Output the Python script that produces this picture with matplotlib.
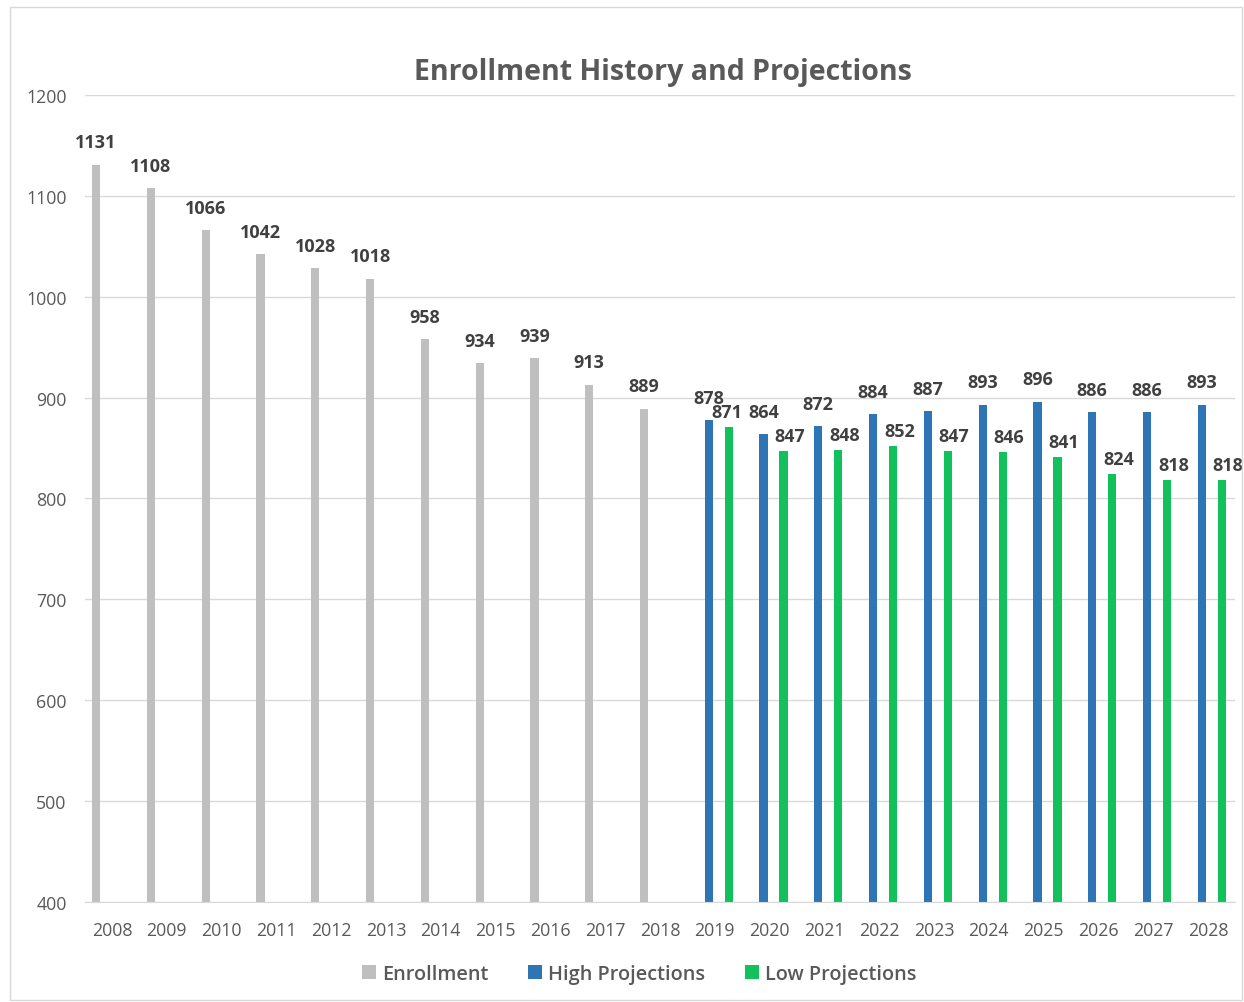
import numpy as np
import matplotlib
matplotlib.use("Agg")
import matplotlib.pyplot as plt
from matplotlib.patches import Rectangle

plt.rcParams['font.family'] = ['Open Sans', 'DejaVu Sans']

# dados do gráfico
years = [str(y) for y in range(2008, 2029)]
enrollment = [1131, 1108, 1066, 1042, 1028, 1018, 958, 934, 939, 913, 889]
high_proj = [878, 864, 872, 884, 887, 893, 896, 886, 886, 893]
low_proj = [871, 847, 848, 852, 847, 846, 841, 824, 818, 818]

cor_cinza = '#BFBFBF'
cor_azul = '#2E75B6'
cor_verde = '#12C15C'
cor_texto = '#595959'
cor_rotulo = '#404040'

fig = plt.figure(figsize=(12.44, 10.03), dpi=100)
ax = fig.add_axes([0.068, 0.0997, 0.925, 0.8046])

x = np.arange(len(years))
xe = x[:len(enrollment)]
xp = x[len(enrollment):]

w = 0.15
b1 = ax.bar(xe - 0.29, enrollment, w, color=cor_cinza, label='Enrollment', zorder=2)
b2 = ax.bar(xp - 0.11, high_proj, w, color=cor_azul, label='High Projections', zorder=2)
b3 = ax.bar(xp + 0.255, low_proj, w, color=cor_verde, label='Low Projections', zorder=2)

# rótulos de valor acima das barras
def rotulos(barras, valores, dx, dy):
    for b, v, d in zip(barras, valores, dx):
        ax.annotate(str(v), (b.get_x() + b.get_width() / 2, v),
                    xytext=(d, dy), textcoords='offset points',
                    ha='center', va='center', fontsize=13,
                    fontweight='bold', color=cor_rotulo)

rotulos(b1, enrollment, [0] * len(enrollment), 16)
rotulos(b2, high_proj, [0] * len(high_proj), 16)
rotulos(b3, low_proj, [-1.5] + [4.5] * (len(low_proj) - 1), 11)

ax.set_ylim(400, 1200)
ax.set_xlim(-0.5, len(years) - 0.5)
ax.set_yticks(range(400, 1201, 100))
ax.set_xticks(x)
ax.set_xticklabels(years)
ax.tick_params(axis='both', length=0, labelsize=12.8, colors=cor_texto)
ax.tick_params(axis='x', pad=14)
ax.tick_params(axis='y', pad=13)
ax.grid(axis='y', color='#D9D9D9', linewidth=1, zorder=0)
for s in ['top', 'right', 'left']:
    ax.spines[s].set_visible(False)
ax.spines['bottom'].set_color('#D9D9D9')

fig.text(0.533, 0.928, 'Enrollment History and Projections', ha='center', va='center',
         fontsize=20.5, fontweight='bold', color=cor_texto)

fig.legend(handles=[b1, b2, b3], loc='center', bbox_to_anchor=(0.514, 0.028), ncol=3,
           frameon=False, handlelength=0.7, handleheight=0.7,
           handletextpad=0.3, columnspacing=2.0, labelcolor=cor_texto,
           prop={'weight': 'semibold', 'size': 14.3})

# moldura externa
fig.patches.append(Rectangle((0.008, 0.002), 0.990, 0.990, transform=fig.transFigure,
                             fill=False, edgecolor='#D9D9D9', linewidth=1))

fig.savefig('out.png', dpi=100, facecolor='white')
